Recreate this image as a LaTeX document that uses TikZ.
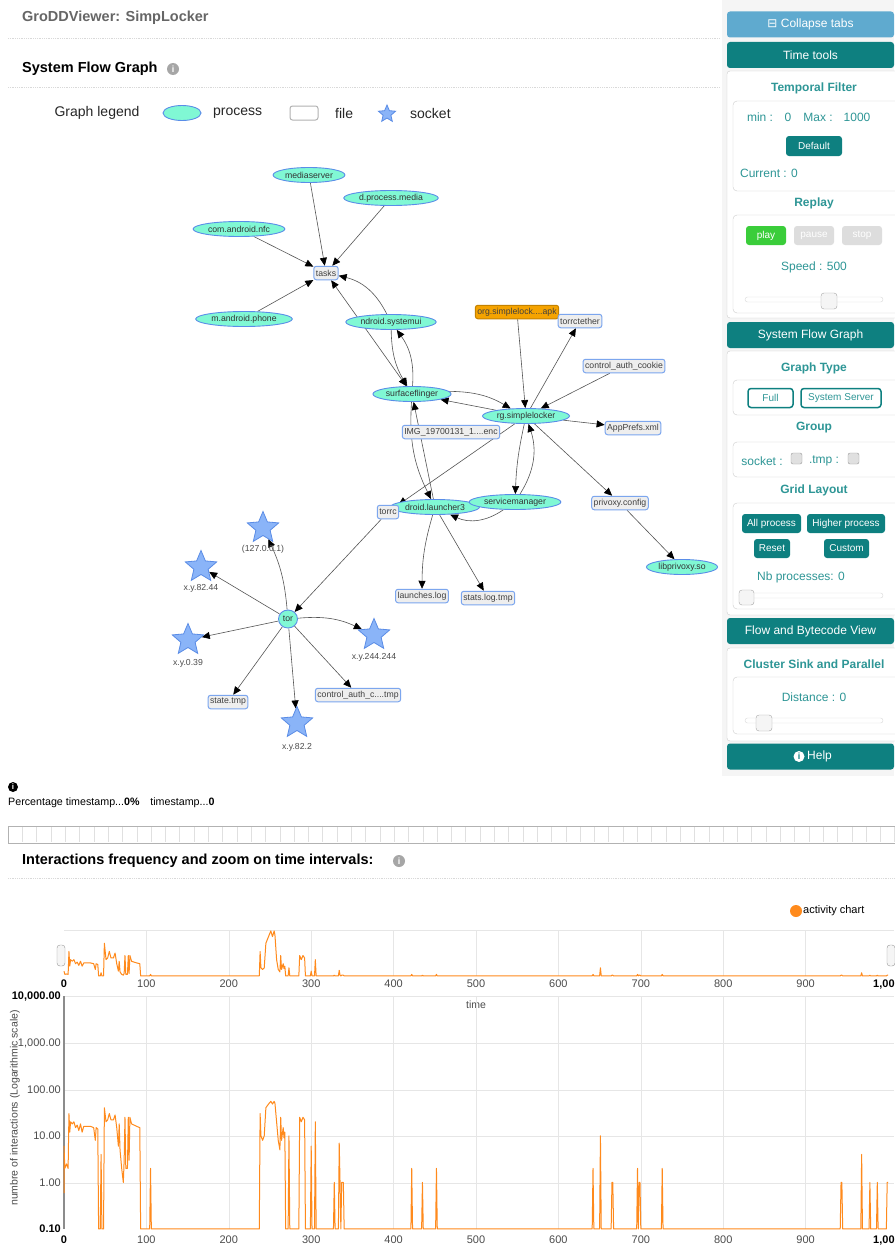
\documentclass[tikz,border=0pt]{standalone}
\usepackage{fontspec}
\setmainfont{Liberation Sans}
\newfontfamily\symfont{DejaVu Sans}
\usetikzlibrary{shapes.geometric,arrows.meta}

\pgfdeclarelayer{back}
\pgfdeclarelayer{edges}
\pgfsetlayers{back,edges,main}

\definecolor{procfill}{HTML}{80F8D4}
\definecolor{procline}{HTML}{5A8DE8}
\definecolor{filefill}{HTML}{EEEEEE}
\definecolor{fileline}{HTML}{7CA6EE}
\definecolor{apkfill}{HTML}{F5A300}
\definecolor{starfill}{HTML}{8AB4F8}
\definecolor{starline}{HTML}{5A8CE6}
\definecolor{edgegray}{HTML}{555555}
\definecolor{tealbar}{HTML}{0E8080}
\definecolor{tealtext}{HTML}{2E9696}
\definecolor{skyblue}{HTML}{5FAACF}
\definecolor{playgreen}{HTML}{3ACD3A}
\definecolor{btngray}{HTML}{DDDDDD}
\definecolor{panelgray}{HTML}{F5F5F5}
\definecolor{boxline}{HTML}{CCCCCC}
\definecolor{gridgray}{HTML}{E6E6E6}
\definecolor{actorange}{HTML}{FF8A1C}
\definecolor{headgray}{HTML}{666666}

\newcommand{\pxfont}[1]{\fontsize{#1}{#1}\selectfont}

% activity samples: time / number of interactions
\newcommand{\actdata}{0/6, 1/2, 3/2.5, 5/2, 6/30, 7/12, 8/20, 10/18, 12/20, 14/15, 16/17, 18/13, 20/18, 22/12, 24/16, 28/16, 32/16, 36/15, 38/8, 39/15, 41/14, 42/0.1, 44/0.1, 45/4, 46/0.1, 48/0.1, 49/40, 51/20, 53/22, 55/30, 57/22, 60/22, 62/28, 64/15, 66/6, 67/18, 68/5, 70/2, 72/1, 73/3, 74/25, 75/2, 77/2, 78/25, 79/3, 80/25, 82/18, 85/17, 88/16, 92/15, 93/0.1, 104/0.1, 105/2, 106/0.1, 237/0.1, 238/30, 239/10, 241/8, 243/10, 245/40, 247/45, 249/50, 251/55, 253/48, 255/55, 256/50, 258/20, 260/8, 262/5, 263/25, 264/8, 266/15, 267/9, 268/12, 269/0.1, 272/0.1, 273/10, 274/0.1, 285/0.1, 286/25, 288/20, 290/25, 292/22, 293/0.1, 299/0.1, 300/6, 301/0.1, 304/0.1, 305/20, 306/0.1, 327/0.1, 328/1, 329/0.1, 333/0.1, 334/7, 335/1, 336/0.1, 337/1, 339/1, 340/0.1, 421/0.1, 422/2, 423/0.1, 434/0.1, 435/1, 436/0.1, 451/0.1, 452/2, 453/0.1, 641/0.1, 642/2, 643/0.1, 650/0.1, 651/10, 652/0.1, 664/0.1, 665/1, 666/1, 667/0.1, 695/0.1, 696/2, 697/0.1, 698/1, 699/1, 700/0.1, 725/0.1, 726/2, 727/0.1, 942/0.1, 943/1, 944/1, 945/0.1, 967/0.1, 968/4, 969/0.1, 977/0.1, 978/1, 979/0.1, 986/0.1, 987/1, 988/0.1, 998/0.1, 999/1, 1000/1}

\tikzset{
  process/.style={ellipse, draw=procline, fill=procfill, line width=0.9pt, inner xsep=1.5pt, inner ysep=0.5pt, minimum height=15pt, text=black!80, font=\pxfont{8.7}},
  file/.style={rectangle, rounded corners=2.5pt, draw=fileline, fill=filefill, line width=1pt, inner sep=2pt, minimum height=13.5pt, text=black!75, font=\pxfont{8.7}},
  apk/.style={file, fill=apkfill, draw=apkfill!80!black},
  socket/.style={star, star points=5, star point ratio=2.2, minimum size=33pt, inner sep=0pt, draw=starline, fill=starfill, line width=0.8pt},
  sockname/.style={inner sep=0pt, text=black!70, font=\pxfont{8.7}},
  flow/.style={draw=edgegray, line width=0.6pt, -{Triangle[length=8pt,width=7pt,color=black]}},
  twoway/.style={draw=edgegray, line width=0.6pt, {Triangle[length=8pt,width=7pt,color=black]}-{Triangle[length=8pt,width=7pt,color=black]}},
  sepline/.style={black!15, densely dotted, line width=0.8pt},
  heading/.style={anchor=west, inner sep=0pt, font=\bfseries\pxfont{14.5}},
  legendtext/.style={inner sep=0pt, font=\pxfont{14}, text=black!85},
  infoicon/.style={circle, fill=black!35, text=white, inner sep=0pt, minimum size=12pt, font=\bfseries\pxfont{9}},
  tabbar/.style={rectangle, rounded corners=3pt, fill=tealbar, text=white, minimum width=167pt, minimum height=26pt, font=\pxfont{12}},
  panelbox/.style={draw=boxline, fill=white, rounded corners=3pt},
  innerbox/.style={draw=boxline, fill=white, rounded corners=4pt},
  ptitle/.style={inner sep=0pt, text=tealtext, font=\bfseries\pxfont{12}},
  ptext/.style={inner sep=0pt, text=tealtext, font=\pxfont{12}},
  tbtn/.style={rectangle, rounded corners=3pt, fill=tealbar, text=white, minimum height=19pt, inner sep=2pt, font=\pxfont{10}},
  obtn/.style={rectangle, rounded corners=3pt, draw=tealbar, line width=1.5pt, fill=white, text=tealtext, minimum height=19pt, inner sep=2pt, font=\pxfont{10}},
  checkbox/.style={draw=black!40, fill=black!12, rounded corners=2pt},
  slidetrack/.style={draw=black!15, fill=white, rounded corners=2.5pt},
  slidehandle/.style={draw=black!35, fill=black!4, rounded corners=3pt},
  tick/.style={inner sep=0pt, text=black!70, font=\pxfont{11}},
  actline/.style={actorange, line width=1pt, line join=round}
}

\begin{document}
\begin{tikzpicture}[x=1pt, y=-1pt]
\useasboundingbox (0,0) rectangle (894,1247);
\begin{pgfonlayer}{back}
\fill[white] (0,0) rectangle (894,1247);
\end{pgfonlayer}

% page header
\node[anchor=west, inner sep=0pt, text=headgray, font=\bfseries\pxfont{14.5}] (apptitle) at (22,18) {GroDDViewer: SimpLocker};
\draw[sepline] (8,38) -- (720,38);
\node[heading] (sfgtitle) at (22,69) {System Flow Graph};
\node[infoicon] (sfginfo) at (173,69) {i};
\draw[sepline] (8,87) -- (720,87);

% legend
\node[legendtext] (legend) at (97,113) {Graph legend};
\node[process, minimum width=38pt, minimum height=15pt] (lproc) at (182,113) {};
\node[legendtext, anchor=west] (lproctxt) at (213,113) {process};
\node[file, draw=black!30, fill=white, minimum width=28pt, minimum height=14pt] (lfile) at (304,113) {};
\node[legendtext, anchor=west] (lfiletxt) at (335,113) {file};
\node[socket, minimum size=18pt] (lsock) at (387,114) {};
\node[legendtext, anchor=west] (lsocktxt) at (410,113) {socket};

% processes and files
\node[process] (media) at (309,175) {mediaserver};
\node[process] (dproc) at (391,198) {d.process.media};
\node[process] (nfc) at (239,229) {com.android.nfc};
\node[file] (tasks) at (326,273) {tasks};
\node[process] (phone) at (244,319) {m.android.phone};
\node[process] (sysui) at (391,322) {ndroid.systemui};
\node[apk] (apk) at (517,312) {org.simplelock....apk};
\node[file] (tether) at (580,321) {torrctether};
\node[file] (cookie) at (624,366) {control\_auth\_cookie};
\node[process] (sflinger) at (412,394) {surfaceflinger};
\node[process] (rgsl) at (526,416) {rg.simplelocker};
\node[file] (prefs) at (633,428) {AppPrefs.xml};
\node[file] (img) at (451,432) {IMG\_19700131\_1....enc};
\node[process] (launcher) at (435,507) {droid.launcher3};
\node[process] (svcmgr) at (515,502) {servicemanager};
\node[file] (torrc) at (388,512) {torrc};
\node[file] (privoxy) at (620,503) {privoxy.config};
\node[process] (libpriv) at (682,567) {libprivoxy.so};
\node[file] (launches) at (422,596) {launches.log};
\node[file] (stats) at (488,598) {stats.log.tmp};
\node[process, inner sep=0pt, minimum width=19pt, minimum height=18pt] (tor) at (288,619) {tor};
\node[file] (state) at (228,702) {state.tmp};
\node[file] (ctmp) at (358,695) {control\_auth\_c....tmp};

% sockets
\node[socket] (s127) at (263,528) {};
\node[sockname] (n127) at (263,549) {(127.0.0.1)};
\node[socket] (s8244) at (201,567) {};
\node[sockname] (n8244) at (201,588) {x.y.82.44};
\node[socket] (s039) at (188,640) {};
\node[sockname] (n039) at (188,663) {x.y.0.39};
\node[socket] (s244) at (374,635) {};
\node[sockname] (n244) at (374,657) {x.y.244.244};
\node[socket] (s822) at (297,723) {};
\node[sockname] (n822) at (297,747) {x.y.82.2};

\begin{pgfonlayer}{edges}
\draw[flow] (media) -- (tasks);
\draw[flow] (dproc) -- (tasks);
\draw[flow] (nfc) -- (tasks);
\draw[flow] (phone) -- (tasks);
\draw[flow] (sysui) to[bend right=25] (tasks);
\draw[twoway] (tasks) -- (sflinger);
\draw[flow] (sysui) to[bend right=15] (sflinger);
\draw[flow] (sflinger) to[bend right=20] (sysui);
\draw[flow] (sflinger) to[bend left=15] (rgsl);
\draw[flow] (rgsl) -- (sflinger);
\draw[flow] (apk) -- (rgsl);
\draw[flow] (rgsl) -- (tether);
\draw[flow] (cookie) -- (rgsl);
\draw[flow] (rgsl) -- (prefs);
\draw[flow] (rgsl) -- (privoxy);
\draw[flow] (privoxy) -- (libpriv);
\draw[flow] (rgsl) to[bend right=5] (svcmgr);
\draw[flow] (svcmgr) to[bend right=25] (rgsl);
\draw[flow] (svcmgr) to[bend left=30] (launcher);
\draw[flow] (rgsl) -- (torrc);
\draw[flow] (torrc) -- (tor);
\draw[flow] (sflinger) to[bend right=15] (launcher);
\draw[flow] (launcher) -- (sflinger);
\draw[flow] (launcher) to[bend right=8] (launches);
\draw[flow] (launcher) -- (stats);
\draw[flow] (tor) to[bend right=10] (s127);
\draw[flow] (tor) -- (s8244);
\draw[flow] (tor) -- (s039);
\draw[flow] (tor) to[bend left=15] (s244);
\draw[flow] (tor) -- (state);
\draw[flow] (tor) -- (s822);
\draw[flow] (tor) -- (ctmp);
\end{pgfonlayer}

% side panel
\fill[panelgray] (722,0) rectangle (894,776);
\node[tabbar, fill=skyblue] (collapse) at (810.5,24.5) {{\symfont ⊟} Collapse tabs};
\node[tabbar] (timetools) at (810.5,55) {Time tools};
\draw[panelbox] (727,71) rectangle (900,318);
\node[ptitle] (tempfilter) at (814,88) {Temporal Filter};
\draw[innerbox] (733,101) rectangle (900,191);
\node[ptext] (minlbl) at (760,117) {min :};
\node[ptext] (minval) at (788,117) {0};
\node[ptext] (maxlbl) at (818,117) {Max :};
\node[ptext] (maxval) at (857,117) {1000};
\node[tbtn, minimum width=56pt, minimum height=20pt] (default) at (814,146) {Default};
\node[ptext] (current) at (769,173) {Current : 0};
\node[ptitle] (replay) at (814,203) {Replay};
\draw[innerbox] (733,215) rectangle (900,313);
\node[tbtn, fill=playgreen, minimum width=40pt] (play) at (766,235.5) {play};
\node[tbtn, fill=btngray, text=white, minimum width=40pt] (pause) at (814,235.5) {pause};
\node[tbtn, fill=btngray, text=white, minimum width=40pt] (stop) at (862,235.5) {stop};
\node[ptext] (speed) at (814,267) {Speed : 500};
\draw[slidetrack] (745,297) rectangle (883,302);
\draw[slidehandle] (821,293) rectangle (837,309);
\node[tabbar] (sfgbar) at (810.5,335) {System Flow Graph};
\draw[panelbox] (727,351) rectangle (900,615);
\node[ptitle] (gtype) at (814,368) {Graph Type};
\draw[innerbox] (733,380) rectangle (900,415);
\node[obtn, minimum width=45pt] (full) at (770.5,398) {Full};
\node[obtn, minimum width=80pt] (sysserver) at (841,398) {System Server};
\node[ptitle] (group) at (814,428) {Group};
\draw[innerbox] (733,442) rectangle (900,477);
\node[ptext] (socklbl) at (762,461) {socket :};
\draw[checkbox] (791,453) rectangle (802,464);
\node[ptext] (tmplbl) at (824,461) {.tmp :};
\draw[checkbox] (848,453) rectangle (859,464);
\node[ptitle] (gridlay) at (814,490) {Grid Layout};
\draw[innerbox] (733,503) rectangle (900,609);
\node[tbtn, minimum width=59pt] (allproc) at (771.5,523.5) {All process};
\node[tbtn, minimum width=78pt] (higher) at (846,523.5) {Higher process};
\node[tbtn, minimum width=36pt] (reset) at (772,548.5) {Reset};
\node[tbtn, minimum width=45pt] (custom) at (846.5,548.5) {Custom};
\node[ptext] (nbproc) at (801,577) {Nb processes: 0};
\draw[slidetrack] (739,593) rectangle (883,598);
\draw[slidehandle] (739,590) rectangle (754,605);
\node[tabbar] (flowbar) at (810.5,631) {Flow and Bytecode View};
\draw[panelbox] (727,648) rectangle (900,741);
\node[ptitle] (cluster) at (814,664) {Cluster Sink and Parallel};
\draw[innerbox] (733,677) rectangle (900,734);
\node[ptext] (distance) at (814,697) {Distance : 0};
\draw[slidetrack] (745,718) rectangle (883,723);
\draw[slidehandle] (756,715) rectangle (772,731);
\node[tabbar] (helpbar) at (810.5,756.5) {};
\node[circle, fill=white, text=tealbar, inner sep=0pt, minimum size=11pt, font=\bfseries\pxfont{9}] (helpicon) at (799,756.5) {i};
\node[inner sep=0pt, text=white, font=\pxfont{12}, anchor=west] (helptxt) at (807,756.5) {Help};

% timestamp strip
\node[circle, fill=black, text=white, inner sep=0pt, minimum size=10pt, font=\bfseries\pxfont{8}] (tsinfo) at (13,787) {i};
\node[anchor=west, inner sep=0pt, font=\pxfont{10.7}] (pct) at (8,803) {Percentage timestamp...\textbf{0\%}\quad timestamp...\textbf{0}};
\draw[black!30] (8,826) rectangle (900,843);
\foreach \k in {1,...,62}
  \draw[black!12] ({8+14.3*\k},827) -- ++(0,15);

\node[heading] (freqtitle) at (22,861) {Interactions frequency and zoom on time intervals:};
\node[infoicon] (freqinfo) at (399,861) {i};
\draw[sepline] (8,878) -- (894,878);

% legend of the charts
\fill[actorange] (796,911) circle (6);
\node[anchor=west, inner sep=0pt, font=\pxfont{11}] (actlegend) at (803,911) {activity chart};

% overview chart
\draw[gridgray] (64,930) -- (894,930);
\foreach \t in {100,200,...,900}
  \draw[gridgray] ({64+0.824*\t},930) -- ({64+0.824*\t},976);
\foreach \t in {100,200,...,900}
  \node[tick] at ({64+0.824*\t},984) {\t};
\node[tick, font=\bfseries\pxfont{11}, text=black] (ozero) at (64,984) {0};
\node[tick, anchor=west, font=\bfseries\pxfont{11}, text=black] (oend) at (873,984) {1,00};
\draw[black!40, fill=black!4, rounded corners=3pt] (57,945) rectangle (65,966);
\draw[black!40, fill=black!4, rounded corners=3pt] (887,945) rectangle (895,966);
\draw[actline] (64,971) \foreach \t/\v in \actdata { -- ({64+0.824*\t},{976-0.82*\v}) };
\node[tick, font=\pxfont{10.5}] (timelbl) at (476,1005) {time};

% detail chart, logarithmic
\foreach \yy in {996,1043,1090,1136,1183}
  \draw[gridgray] (64,\yy) -- (894,\yy);
\foreach \t in {100,200,...,900}
  \draw[gridgray] ({64+0.824*\t},996) -- ({64+0.824*\t},1229);
\draw[black!45, line width=1.2pt] (64,996) -- (64,1229);
\node[tick, anchor=east, font=\bfseries\pxfont{11}, text=black] (ytop) at (61,996) {10,000.00};
\node[tick, anchor=east] (y1000) at (61,1043) {1,000.00};
\node[tick, anchor=east] (y100) at (61,1090) {100.00};
\node[tick, anchor=east] (y10) at (61,1136) {10.00};
\node[tick, anchor=east] (y1) at (61,1183) {1.00};
\node[tick, anchor=east, font=\bfseries\pxfont{11}, text=black] (ybot) at (61,1229) {0.10};
\node[tick, rotate=90, font=\pxfont{10.5}] (ylabel) at (15,1108) {numbre of interactions (Logarithmic scale)};
\foreach \t in {100,200,...,900}
  \node[tick] at ({64+0.824*\t},1240) {\t};
\node[tick, font=\bfseries\pxfont{11}, text=black] (dzero) at (64,1240) {0};
\node[tick, anchor=west, font=\bfseries\pxfont{11}, text=black] (dend) at (873,1240) {1,00};
\draw[actline] (64,1193) \foreach \t/\v in \actdata { -- ({64+0.824*\t},{1229-46.6*(log10(\v)+1)}) };
\end{tikzpicture}
\end{document}
